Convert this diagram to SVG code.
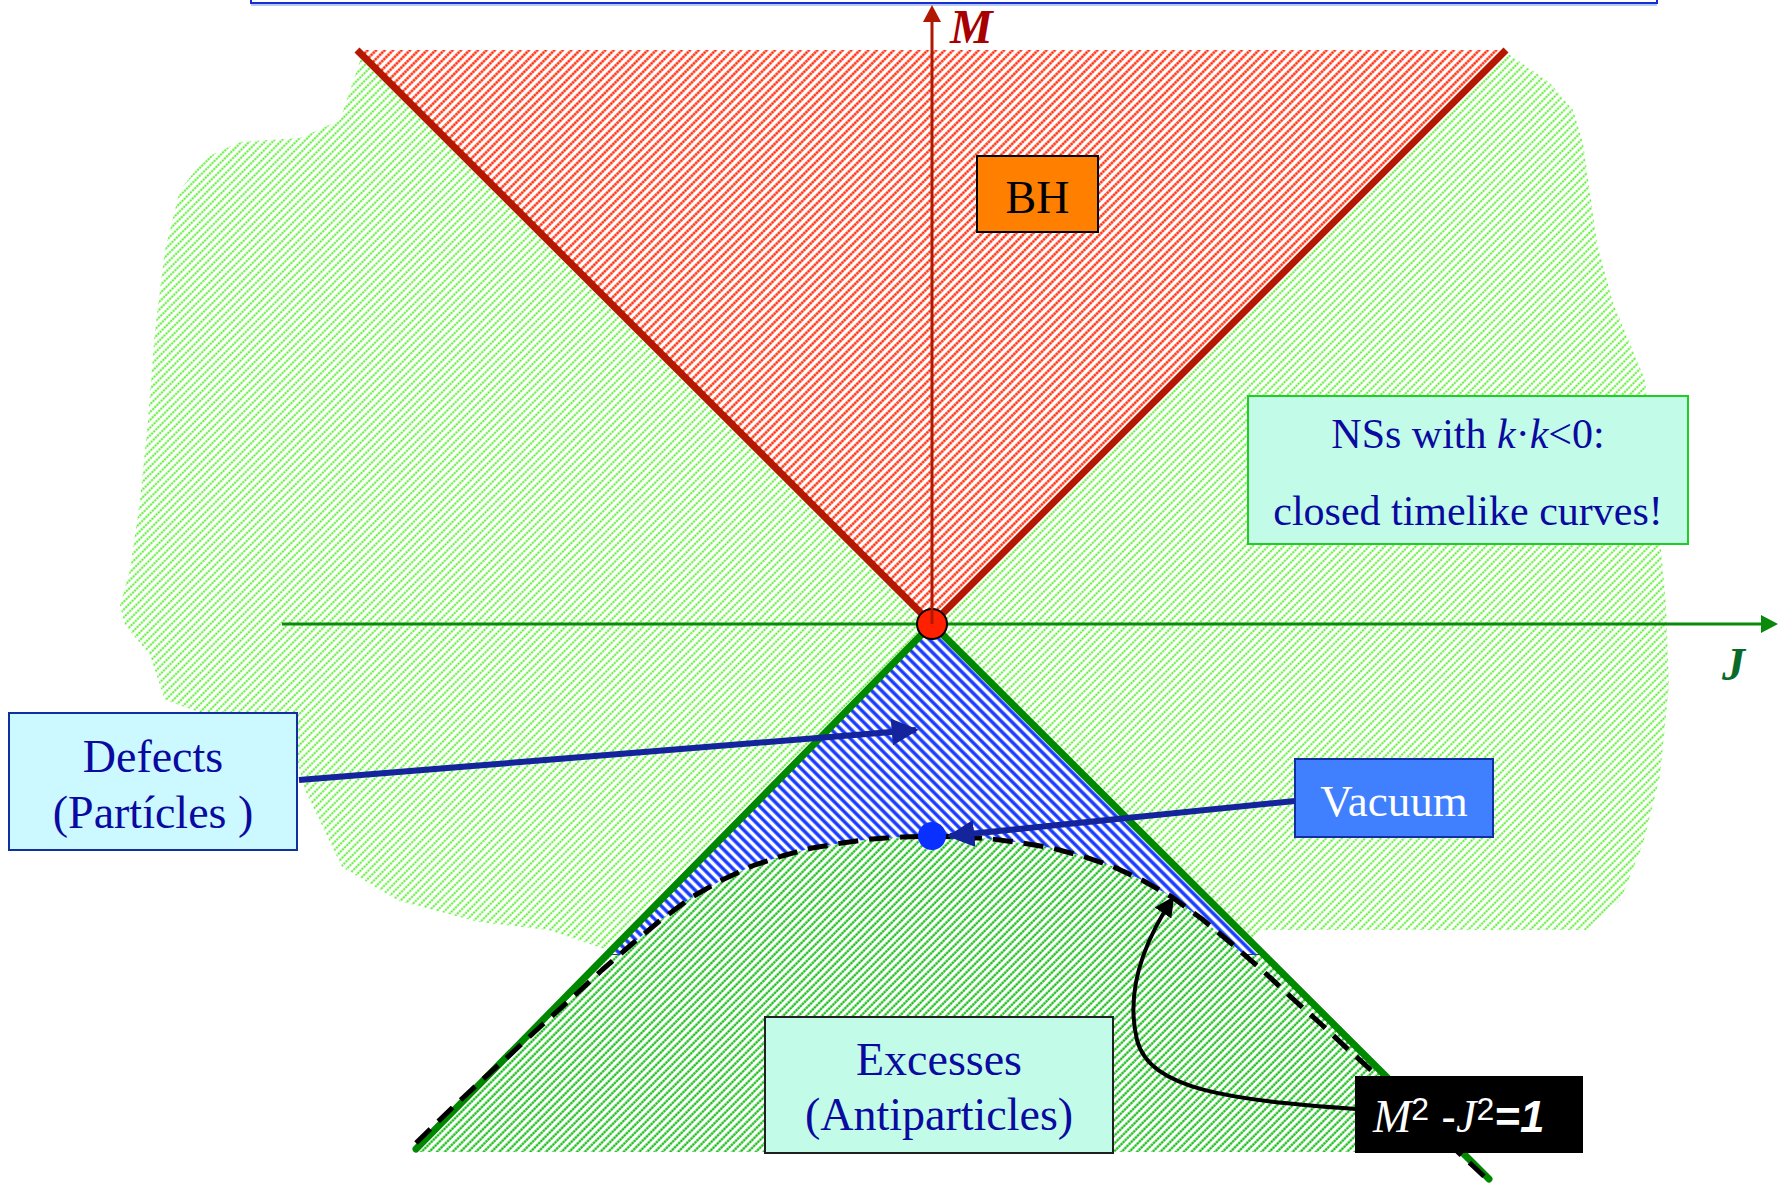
<svg xmlns="http://www.w3.org/2000/svg" width="1789" height="1183" viewBox="0 0 1789 1183">
<style>
.lbl{font-family:"Liberation Serif","Times New Roman",serif;text-anchor:middle}
.box{stroke-width:2}
.conn{stroke:#14249c;stroke-width:6;fill:none}
</style>
<defs>
<pattern id="pGreen" patternUnits="userSpaceOnUse" width="5.5" height="6" patternTransform="rotate(45)">
<line x1="1.5" y1="0" x2="1.5" y2="6" stroke="#5cee34" stroke-width="1.9" stroke-dasharray="2.2 0.8"/>
</pattern>
<pattern id="pRed" patternUnits="userSpaceOnUse" width="6" height="6" patternTransform="rotate(45)">
<line x1="1.5" y1="0" x2="1.5" y2="6" stroke="#ff2200" stroke-width="2.4" stroke-dasharray="2.4 0.6"/>
</pattern>
<pattern id="pBlue" patternUnits="userSpaceOnUse" width="7" height="7" patternTransform="rotate(-45)">
<line x1="2" y1="0" x2="2" y2="7" stroke="#1438ff" stroke-width="3.4"/>
</pattern>
<pattern id="pLow" patternUnits="userSpaceOnUse" width="5.5" height="6" patternTransform="rotate(45)">
<line x1="1.5" y1="0" x2="1.5" y2="6" stroke="#12bc12" stroke-width="2.2" stroke-dasharray="2.4 0.6"/>
</pattern>
<marker id="arrBlue" viewBox="0 0 10 10" refX="9" refY="5" markerWidth="4.5" markerHeight="4.5" orient="auto" markerUnits="strokeWidth">
<path d="M0,0 L10,5 L0,10 z" fill="#14249c"/>
</marker>
<marker id="arrBlack" viewBox="0 0 10 10" refX="9" refY="5" markerWidth="5" markerHeight="5" orient="auto" markerUnits="strokeWidth">
<path d="M0,0 L10,5 L0,10 z" fill="#000"/>
</marker>
</defs>

<g id="title-frame">
<rect x="251" y="-20" width="1406" height="23" fill="#fff" stroke="#1530d0" stroke-width="2"/>
<line x1="251" y1="5" x2="1657" y2="5" stroke="#b8c8f8" stroke-width="2"/>
</g>

<g id="regions">
<path id="nss-region" d="M362,55 L340,120 L300,138 L240,142 L205,158 L180,190 L165,250 L155,330 L148,420 L140,500 L130,570 L120,605 L125,625 L150,655 L165,700 L293,745 L305,790 L342,867 L399,901 L479,922 L548,930 L605,949 L700,985 L1200,985 L1263,930 L1586,930 L1620,901 L1643,844 L1660,776 L1669,685 L1666,605 L1662,560 L1645,380 L1613,303 L1597,243 L1590,193 L1583,143 L1573,110 L1550,83 L1510,55 Z" fill="url(#pGreen)"/>
<polygon id="bh-region" points="932,624 357,50 1506,50" fill="#fff"/>
<polygon points="932,624 357,50 1506,50" fill="url(#pRed)"/>
<polygon id="defect-region" points="932,624 607,955 1264,955" fill="#fff" stroke="#000" stroke-width="1.5"/>
<polygon points="932,624 607,955 1264,955" fill="url(#pBlue)"/>
<path id="excess-region" d="M413,1152 L607,955 L620,955 L632,944 L662,919 L692,897 L722,880 L752,866 L782,856 L812,848 L842,843 L872,839 L902,837 L932,836 L962,837 L992,839 L1022,843 L1052,848 L1082,856 L1112,866 L1142,880 L1172,897 L1202,919 L1232,944 L1244,955 L1264,955 L1461,1152 Z" fill="#fff"/>
<path d="M413,1152 L607,955 L620,955 L632,944 L662,919 L692,897 L722,880 L752,866 L782,856 L812,848 L842,843 L872,839 L902,837 L932,836 L962,837 L992,839 L1022,843 L1052,848 L1082,856 L1112,866 L1142,880 L1172,897 L1202,919 L1232,944 L1244,955 L1264,955 L1461,1152 Z" fill="url(#pLow)"/>
</g>

<g id="boundaries">
<line x1="932" y1="624" x2="357" y2="50" stroke="#b41800" stroke-width="7"/>
<line x1="932" y1="624" x2="1506" y2="50" stroke="#b41800" stroke-width="7"/>
<line x1="932" y1="624" x2="416" y2="1149" stroke="#008800" stroke-width="7" stroke-linecap="round"/>
<line x1="932" y1="624" x2="1489" y2="1179" stroke="#008800" stroke-width="7" stroke-linecap="round"/>
<polyline id="hyperbola" points="416,1143 452,1108 482,1080 512,1053 542,1025 572,998 602,970 632,944 662,919 692,897 722,880 752,866 782,856 812,848 842,843 872,839 902,837 932,836 962,837 992,839 1022,843 1052,848 1082,856 1112,866 1142,880 1172,897 1202,919 1232,944 1262,970 1292,998 1322,1025 1352,1053 1382,1080 1412,1108 1442,1137 1472,1165 1489,1181" fill="none" stroke="#000" stroke-width="5" stroke-dasharray="20 11" stroke-linejoin="round"/>
</g>

<g id="axes">
<line x1="282" y1="624" x2="1764" y2="624" stroke="#0a8a0a" stroke-width="3"/>
<polygon points="1778,624 1761,615 1761,633" fill="#0a8a0a"/>
<text x="1722" y="680" font-family="Liberation Serif,serif" font-size="46" font-weight="bold" font-style="italic" fill="#0a6a2a">J</text>
<circle id="origin" cx="932" cy="624" r="15" fill="#ff2000" stroke="#000" stroke-width="2"/>
<line x1="932" y1="624" x2="932" y2="18" stroke="#b01800" stroke-width="3"/>
<polygon points="932,5 923,22 941,22" fill="#b01800"/>
<text x="950" y="43" font-family="Liberation Serif,serif" font-size="48" font-weight="bold" font-style="italic" fill="#a80000">M</text>
</g>

<g id="connectors">
<line class="conn" x1="299" y1="780" x2="916" y2="730" marker-end="url(#arrBlue)"/>
<line class="conn" x1="1295" y1="801" x2="950" y2="836" marker-end="url(#arrBlue)"/>
<path d="M1356,1109 C1230,1100 1150,1090 1137,1040 C1125,990 1145,940 1173,898" fill="none" stroke="#000" stroke-width="4" marker-end="url(#arrBlack)"/>
</g>

<g id="vacuum-dot"><circle cx="932" cy="836" r="14" fill="#0a30ff"/></g>

<g id="node-bh">
<rect class="box" x="977" y="156" width="121" height="76" fill="#ff8000" stroke="#000"/>
<text class="lbl" x="1037.5" y="213" font-size="46" fill="#000">BH</text>
</g>

<g id="node-nss">
<rect class="box" x="1248" y="396" width="440" height="148" fill="#c2fce8" stroke="#22cc22"/>
<text class="lbl" x="1468" y="448" font-size="42" fill="#0a0aa0">NSs with <tspan font-style="italic">k</tspan>·<tspan font-style="italic">k</tspan>&lt;0:</text>
<text class="lbl" x="1468" y="525" font-size="42" fill="#0a0aa0">closed timelike curves!</text>
</g>

<g id="node-defects">
<rect class="box" x="9" y="713" width="288" height="137" fill="#ccf8ff" stroke="#1030a0"/>
<text class="lbl" x="153" y="772" font-size="46" fill="#0a0aa0">Defects</text>
<text class="lbl" x="153" y="828" font-size="46" fill="#0a0aa0">(Partícles )</text>
</g>

<g id="node-vacuum">
<rect class="box" x="1295" y="759" width="198" height="78" fill="#4080ff" stroke="#1030a0"/>
<text class="lbl" x="1394" y="816" font-size="45" fill="#fff">Vacuum</text>
</g>

<g id="node-excesses">
<rect class="box" x="765" y="1017" width="348" height="136" fill="#c2fce8" stroke="#202020"/>
<text class="lbl" x="939" y="1075" font-size="46" fill="#0a0aa0">Excesses</text>
<text class="lbl" x="939" y="1130" font-size="46" fill="#0a0aa0">(Antiparticles)</text>
</g>

<g id="node-hyperbola-label">
<rect x="1355" y="1076" width="228" height="77" fill="#000"/>
<text x="1373" y="1132" fill="#fff" font-size="46"><tspan font-family="Liberation Serif,serif" font-style="italic">M</tspan><tspan font-family="Liberation Sans,sans-serif" font-size="32" dy="-12">2</tspan><tspan font-family="Liberation Sans,sans-serif" font-size="44" dy="12"> -</tspan><tspan font-family="Liberation Serif,serif" font-style="italic">J</tspan><tspan font-family="Liberation Sans,sans-serif" font-size="32" dy="-12">2</tspan><tspan font-family="Liberation Sans,sans-serif" font-size="44" font-weight="bold" font-style="italic" dy="12">=1</tspan></text>
</g>
</svg>
